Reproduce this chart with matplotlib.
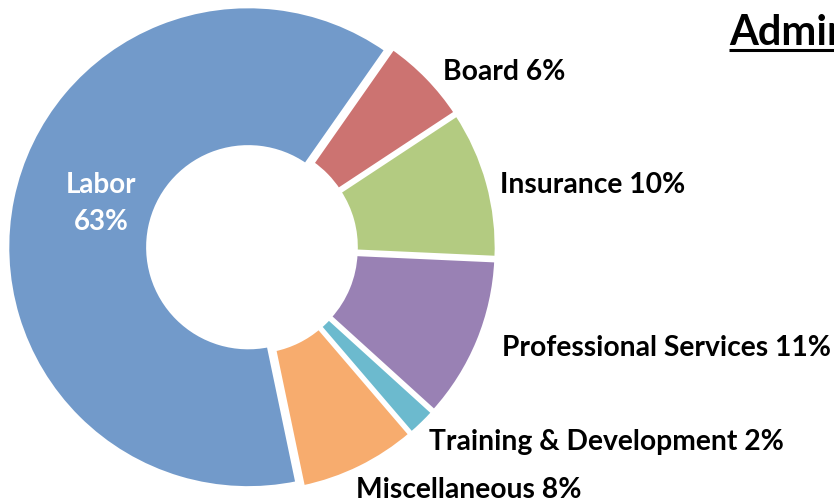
import matplotlib.pyplot as plt

plt.rcParams['font.family'] = ['Lato', 'DejaVu Sans']

# slice data, clockwise from Board
categories = ['Board', 'Insurance', 'Professional Services', 'Training & Development', 'Miscellaneous', 'Labor']
shares = [6, 10, 11, 2, 8, 63]
colors = ['#CC7371', '#B3CB81', '#9981B4', '#6CBACE', '#F7AC6E', '#729ACA']
title = 'Administrative Expenses'

# label anchors in figure pixels (left x, baseline y), Labor drawn inside
label_px = {
    'Board': (443, 80),
    'Insurance': (500, 193),
    'Professional Services': (502, 356),
    'Training & Development': (429, 450),
    'Miscellaneous': (356, 498),
}

W, H = 834, 502
cx, cy, R = 252, 249, 241   # pie centre and radius in pixels

fig = plt.figure(figsize=(W / 100, H / 100), dpi=100)
ax = fig.add_axes([0, 0, 1, 1])

wedges, _ = ax.pie(shares, colors=colors, startangle=55, counterclock=False,
                   explode=[0.016] * len(shares), radius=1,
                   wedgeprops=dict(width=0.585, edgecolor='white', linewidth=3))
ax.set_xlim(-cx / R, (W - cx) / R)
ax.set_ylim(-(H - cy) / R, cy / R)
ax.axis('off')

def fx(x):
    return x / W

def fy(y):
    return 1 - y / H

for name, share in zip(categories, shares):
    if name in label_px:
        x, y = label_px[name]
        fig.text(fx(x), fy(y), '%s %d%%' % (name, share), fontsize=20.3,
                 fontweight='bold', color='black', ha='left', va='baseline')

labor_share = shares[categories.index('Labor')]
fig.text(fx(101), fy(193), 'Labor', fontsize=20, fontweight='bold', color='white',
         ha='center', va='baseline')
fig.text(fx(101), fy(230), '%d%%' % labor_share, fontsize=20, fontweight='bold',
         color='white', ha='center', va='baseline')

fig.text(fx(729), fy(45), title, fontsize=30, fontweight='bold', color='black',
         ha='left', va='baseline')
# underline
ax.plot([729 / R - cx / R, (W + 50) / R - cx / R], [(cy - 51) / R] * 2,
        color='black', linewidth=2.2, clip_on=False, solid_capstyle='butt')

fig.savefig('out.png', dpi=100)
